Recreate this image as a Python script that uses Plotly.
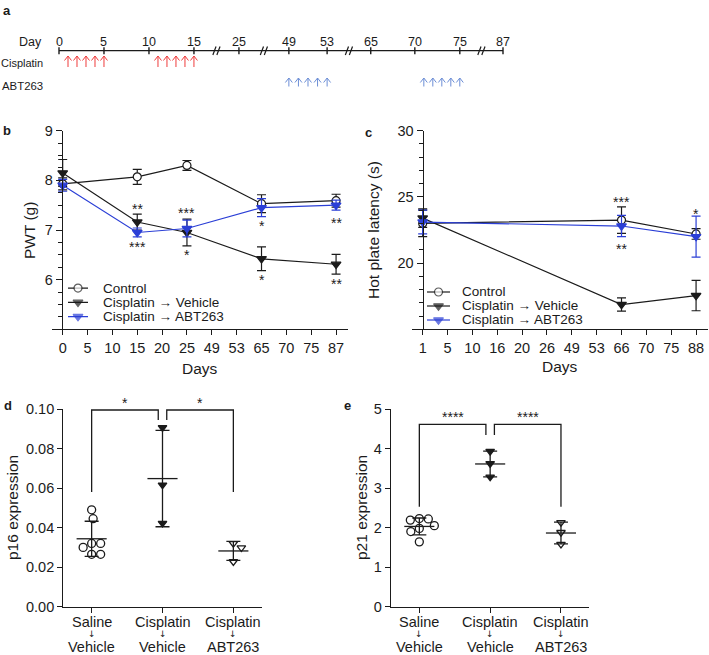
import numpy as np
import plotly.graph_objects as go

W, H = 709, 655
FONT = "Liberation Sans, Arial, Helvetica, sans-serif"
INK = "#1b1b1b"
BLUE = "#2b3fd6"
RED = "#ef3b3b"
SKY = "#6c8ed6"

# *** Data

# a) dosing schedule (broken time axis)
tl_days = [0, 5, 10, 15, 25, 49, 53, 65, 70, 75, 87]
tl_slots = [0, 1, 2, 3, 4, 5.11, 5.96, 6.93, 7.91, 8.91, 9.87]  # drawn position of each tick
tl_breaks_after = [15, 25, 53, 75]
cisplatin_days = [1, 2, 3, 4, 5, 11, 12, 13, 14, 15]
abt263_days = [49, 50, 51, 52, 53, 71, 72, 73, 74, 75]

series_names = ["Control", "Cisplatin \u2192 Vehicle", "Cisplatin \u2192 ABT263"]

# b) paw withdrawal threshold
pwt_ticks = [0, 5, 10, 15, 20, 25, 49, 53, 65, 70, 75, 87]
pwt_days = [0, 15, 25, 65, 87]
pwt_control = [7.93, 8.07, 8.30, 7.53, 7.59]
pwt_control_sd = [0.12, 0.15, 0.10, 0.18, 0.13]
pwt_vehicle = [8.15, 7.16, 6.95, 6.42, 6.31]
pwt_vehicle_sd = [0.27, 0.16, 0.27, 0.24, 0.20]
pwt_abt263 = [7.90, 6.95, 7.03, 7.45, 7.50]
pwt_abt263_sd = [0.12, 0.09, 0.17, 0.18, 0.10]
pwt_stars = [(15, 7.48, "**"), (15, 6.71, "***"), (25, 7.40, "***"), (25, 6.55, "*"),
             (65, 7.15, "*"), (65, 6.05, "*"), (87, 7.21, "**"), (87, 5.98, "**")]

# c) hot plate latency
hp_ticks = [1, 5, 10, 16, 20, 26, 49, 53, 66, 70, 75, 88]
hp_days = [1, 66, 88]
hp_control = [23.0, 23.25, 22.2]
hp_control_sd = [1.0, 1.0, 0.4]
hp_vehicle = [23.4, 16.87, 17.55]
hp_vehicle_sd = [0.7, 0.5, 1.15]
hp_abt263 = [23.1, 22.8, 22.0]
hp_abt263_sd = [0.9, 0.8, 1.55]
hp_stars = [(66, 24.83, "***"), (66, 21.26, "**"), (88, 23.97, "*")]

# d) p16 and e) p21 expression
group_labels = [("Saline", "Vehicle"), ("Cisplatin", "Vehicle"), ("Cisplatin", "ABT263")]
p16_saline = [0.049, 0.0445, 0.032, 0.032, 0.030, 0.0265, 0.0265]
p16_cis_vehicle = [0.0906, 0.0616, 0.0422]
p16_cis_abt263 = [0.032, 0.0298, 0.0228]
p21_saline = [2.23, 2.22, 2.19, 2.05, 1.98, 1.90, 1.64]
p21_cis_vehicle = [3.93, 3.62, 3.28]
p21_cis_abt263 = [2.13, 1.88, 1.58]
p16_stars = ["*", "*"]
p21_stars = ["****", "****"]


def xp(px):
    return px / W


def yp(py):
    return 1 - py / H


def swarm(values, px_per_y, px_per_x, diam=9.0):
    # simple beeswarm: nearest free horizontal slot for each point
    placed, offsets = [], []
    cands = [0.0]
    for st in np.arange(0.5, 40, 0.5):
        cands += [st, -st]
    for v in values:
        y = v * px_per_y
        for c in cands:
            if all((c - px) ** 2 + (y - py) ** 2 >= diam ** 2 for px, py in placed):
                break
        placed.append((c, y))
        offsets.append(c / px_per_x)
    return offsets


def axis(**kw):
    base = dict(showgrid=False, zeroline=False, showline=True, linecolor=INK, linewidth=1.3,
                ticks="outside", tickcolor=INK, tickwidth=1.3, ticklen=5, automargin=False,
                tickfont=dict(family=FONT, size=14.5, color=INK))
    base.update(kw)
    return base


fig = go.Figure()
annotations = []
shapes = []


def text(x, y, s, size=14.5, xref="paper", yref="paper", xanchor="center", yanchor="middle",
         family=FONT, **kw):
    annotations.append(dict(x=x, y=y, xref=xref, yref=yref, text=s, showarrow=False,
                            xanchor=xanchor, yanchor=yanchor,
                            font=dict(family=family, size=size, color=INK), **kw))


# *** a) timeline
fig.add_trace(go.Scatter(
    x=tl_slots, y=[50.7] * len(tl_slots), xaxis="x5", yaxis="y5",
    mode="lines+markers",
    line=dict(color=INK, width=1.3),
    marker=dict(symbol="line-ns-open", size=5, color=INK, line=dict(width=1.4, color=INK)),
    hoverinfo="skip", cliponaxis=False))
for slot, d in zip(tl_slots, tl_days):
    text(slot, 42, str(d), size=12.5, xref="x5", yref="y5")

for d in tl_breaks_after:
    i = tl_days.index(d)
    xm = (tl_slots[i] + tl_slots[i + 1]) / 2
    for off in (-2.0, 2.0):
        x0 = xm + (off - 1.6) / 45
        x1 = xm + (off + 1.6) / 45
        shapes.append(dict(type="line", xref="x5", yref="y5", x0=x0, y0=55, x1=x1, y1=46.5,
                           line=dict(color=INK, width=1.2)))


def dose_arrows(days, color, y_bot, y_top):
    for x in np.interp(days, tl_days, tl_slots):
        dx = 3.5 / 45
        shapes.append(dict(type="path", xref="x5", yref="y5",
                           path=f"M {x},{y_bot} L {x},{y_top} M {x - dx},{y_top + 4.5} "
                                f"L {x},{y_top} L {x + dx},{y_top + 4.5}",
                           line=dict(color=color, width=1.0)))


dose_arrows(cisplatin_days, RED, 67, 56)
dose_arrows(abt263_days, SKY, 86.5, 78)

text(xp(44), yp(42), "Day", size=12.5, xanchor="right")
text(xp(44.5), yp(63), "Cisplatin", size=11, xanchor="right")
text(xp(44.5), yp(86), "ABT263", size=11.4, xanchor="right")

# *** b) and c) time courses
styles = [
    dict(color=INK, symbol="circle", fill="white", size=8),
    dict(color=INK, symbol="triangle-down", fill=INK, size=8.5),
    dict(color=BLUE, symbol="triangle-down", fill=BLUE, size=8.5),
]


def time_course(ticks, days, series, xa, ya):
    xs = [ticks.index(d) for d in days]
    for (vals, sd), st in zip(series, styles):
        fig.add_trace(go.Scatter(
            x=xs, y=vals, xaxis=xa, yaxis=ya, mode="lines+markers",
            error_y=dict(type="data", array=sd, width=4.5, thickness=1.2, color=st["color"]),
            line=dict(color=st["color"], width=1.2),
            marker=dict(symbol=st["symbol"], size=st["size"], color=st["fill"],
                        line=dict(color=st["color"], width=1.2)),
            cliponaxis=False, hoverinfo="skip"))


time_course(pwt_ticks, pwt_days,
            [(pwt_control, pwt_control_sd), (pwt_vehicle, pwt_vehicle_sd),
             (pwt_abt263, pwt_abt263_sd)], "x", "y")
time_course(hp_ticks, hp_days,
            [(hp_control, hp_control_sd), (hp_vehicle, hp_vehicle_sd),
             (hp_abt263, hp_abt263_sd)], "x2", "y2")

for d, y, s in pwt_stars:
    text(pwt_ticks.index(d), y, s, size=14, xref="x", yref="y", yshift=-3)
for d, y, s in hp_stars:
    text(hp_ticks.index(d), y, s, size=14, xref="x2", yref="y2", yshift=-3)


def legend(xa, ya, text_x):
    for row, (name, st) in enumerate(zip(series_names, styles)):
        fig.add_trace(go.Scatter(
            x=[0, 0.5, 1], y=[row] * 3, xaxis=xa, yaxis=ya, mode="lines+markers",
            line=dict(color=st["color"], width=1.2),
            marker=dict(symbol=st["symbol"], size=[0, st["size"], 0], color=st["fill"],
                        line=dict(color=st["color"], width=1.2)),
            cliponaxis=False, hoverinfo="skip"))
        text(text_x, row, name, size=13.5, yref=ya, xanchor="left", borderpad=0)


legend("x6", "y6", xp(102))
legend("x7", "y7", xp(461))

text(xp(30), yp(230), "PWT (g)", size=15.5, textangle=-90)
text(xp(374), yp(230), "Hot plate latency (s)", size=15.5, textangle=-90)
text(xp(200), yp(368), "Days", size=15.5)
text(xp(560), yp(367), "Days", size=15.5)

# *** d) and e) dot plots with mean +/- SD
markers_de = [
    dict(symbol="circle-open", color=INK, size=8),
    dict(symbol="triangle-down", color=INK, size=7.5),
    dict(symbol="triangle-down-open", color=INK, size=7.5),
]


def dot_plot(groups, xa, ya, px_per_y):
    for i, (vals, mk) in enumerate(zip(groups, markers_de)):
        offs = swarm(vals, px_per_y, 70.8)
        fig.add_trace(go.Scatter(
            x=[i + o for o in offs], y=vals, xaxis=xa, yaxis=ya, mode="markers",
            marker=dict(symbol=mk["symbol"], size=mk["size"], color=mk["color"],
                        line=dict(color=INK, width=1.3)),
            cliponaxis=False, hoverinfo="skip"))
    for i, vals in enumerate(groups):
        fig.add_trace(go.Scatter(
            x=[i], y=[np.mean(vals)], xaxis=xa, yaxis=ya, mode="markers",
            marker=dict(symbol="line-ew-open", size=21.5, color=INK, line=dict(color=INK, width=1.3)),
            error_y=dict(type="data", array=[np.std(vals, ddof=1)], width=7, thickness=1.3, color=INK),
            cliponaxis=False, hoverinfo="skip"))


dot_plot([p16_saline, p16_cis_vehicle, p16_cis_abt263], "x3", "y3", 1977)
dot_plot([p21_saline, p21_cis_vehicle, p21_cis_abt263], "x4", "y4", 39.54)


def brackets(xa, ya, top, long_bot, short_bot, star_texts, star_size):
    gap = 0.06
    spans = [(0, 1 - gap, long_bot, short_bot), (1 + gap, 2, short_bot, long_bot)]
    for (x0, x1, b0, b1), s in zip(spans, star_texts):
        shapes.append(dict(type="path", xref=xa, yref=ya,
                           path=f"M {x0},{b0} L {x0},{top} L {x1},{top} L {x1},{b1}",
                           line=dict(color=INK, width=1.3)))
        text((x0 + x1) / 2, top, s, size=star_size, xref=xa, yref=ya, yshift=7)


brackets("x3", "y3", 0.0995, 0.058, 0.0944, p16_stars, 14)
brackets("x4", "y4", 4.61, 2.53, 4.34, p21_stars, 14)

for xa in ("x3", "x4"):
    for i, (top_line, bottom_line) in enumerate(group_labels):
        text(i, yp(621.5), top_line, xref=xa, borderpad=0)
        text(i, yp(634.3), "\u2193", size=9, xref=xa, borderpad=0, family="DejaVu Sans")
        text(i, yp(646.8), bottom_line, xref=xa, borderpad=0)

text(xp(12), yp(508), "p16 expression", size=15.5, textangle=-90)
text(xp(361), yp(508), "p21 expression", size=15.5, textangle=-90)

# panel letters
for letter, x, y in [("a", 7, 10), ("b", 7, 131), ("c", 368, 132), ("d", 8, 405), ("e", 347, 405)]:
    text(xp(x), yp(y), f"<b>{letter}</b>", size=13)

hidden = dict(visible=False, showgrid=False, zeroline=False, automargin=False)

fig.update_layout(
    template="none",
    width=W, height=H, margin=dict(l=0, r=0, t=0, b=0, pad=0), autosize=False,
    paper_bgcolor="white", plot_bgcolor="white", showlegend=False,
    font=dict(family=FONT, color=INK),
    # b
    xaxis=axis(domain=[xp(52), xp(348)], range=[-0.43, 11.48], anchor="y",
               tickmode="array", tickvals=list(range(len(pwt_ticks))),
               ticktext=[str(d) for d in pwt_ticks]),
    yaxis=axis(domain=[yp(329.3), yp(130.7)], range=[5, 9], anchor="free", position=xp(62),
               tickmode="array", tickvals=[6, 7, 8, 9], ticklen=6,
               minor=dict(tickmode="linear", tick0=5, dtick=0.25, ticks="outside",
                          ticklen=3.5, tickcolor=INK, tickwidth=1.2)),
    # c
    xaxis2=axis(domain=[xp(411.5), xp(708)], range=[-0.45, 11.48], anchor="y2",
                tickmode="array", tickvals=list(range(len(hp_ticks))),
                ticktext=[str(d) for d in hp_ticks]),
    yaxis2=axis(domain=[yp(329.3), yp(130.7)], range=[15, 30], anchor="free", position=xp(422.7),
                tickmode="array", tickvals=[20, 25, 30], ticklen=6,
                minor=dict(tickmode="linear", tick0=15, dtick=1, ticks="outside",
                           ticklen=3.5, tickcolor=INK, tickwidth=1.2)),
    # d
    xaxis3=axis(domain=[xp(63.3), xp(261.7)], range=[-0.4, 2.4], anchor="y3",
                tickmode="array", tickvals=[0, 1, 2], showticklabels=False),
    yaxis3=axis(domain=[yp(606.7), yp(409)], range=[0, 0.1], anchor="x3",
                tickmode="array", tickvals=[0, 0.02, 0.04, 0.06, 0.08, 0.1], tickformat=".2f"),
    # e
    xaxis4=axis(domain=[xp(391), xp(589.3)], range=[-0.4, 2.4], anchor="y4",
                tickmode="array", tickvals=[0, 1, 2], showticklabels=False),
    yaxis4=axis(domain=[yp(606.7), yp(409)], range=[0, 5], anchor="x4",
                tickmode="array", tickvals=[0, 1, 2, 3, 4, 5]),
    # a timeline
    xaxis5=dict(hidden, domain=[xp(59), xp(503)], range=[0, tl_slots[-1]], anchor="y5"),
    yaxis5=dict(hidden, domain=[yp(100), yp(30)], range=[100, 30], anchor="x5"),
    # legends
    xaxis6=dict(hidden, domain=[xp(68), xp(88)], range=[0, 1], anchor="y6"),
    yaxis6=dict(hidden, domain=[yp(323.7), yp(281)], range=[2.5, -0.5], anchor="x6"),
    xaxis7=dict(hidden, domain=[xp(427), xp(450)], range=[0, 1], anchor="y7"),
    yaxis7=dict(hidden, domain=[yp(327), yp(285)], range=[2.5, -0.5], anchor="x7"),
    annotations=annotations,
    shapes=shapes,
)

fig.write_html("out.html", config={"displayModeBar": False},
               post_script="document.body.style.margin='0';")
